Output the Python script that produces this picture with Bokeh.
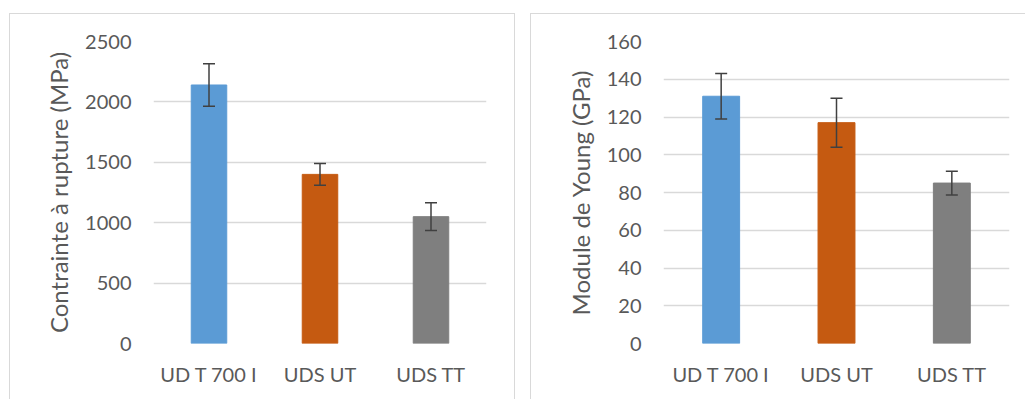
from bokeh.plotting import figure
from bokeh.layouts import row
from bokeh.models import ColumnDataSource, Whisker, TeeHead, FactorRange, Range1d
from bokeh.embed import file_html
from bokeh.resources import INLINE

categories = ["UD T 700 I", "UDS UT", "UDS TT"]
colors = ["#5B9BD5", "#C55A11", "#7F7F7F"]

strength = [2140, 1400, 1050]
strength_err = [175, 90, 115]

modulus = [131, 117, 85]
modulus_err = [12, 13, 6.3]

FONT = "Lato"
TXT = "#595959"
GRID = "#d9d9d9"
BORDER = "1px solid #d9d9d9"


def make(vals, errs, ymax, ylabel, w, left, right):
    src = ColumnDataSource(dict(
        cat=categories, val=vals, color=colors,
        lo=[v - e for v, e in zip(vals, errs)],
        hi=[v + e for v, e in zip(vals, errs)],
    ))
    p = figure(x_range=FactorRange(*categories, range_padding=0),
               y_range=Range1d(0, ymax),
               width=w, height=386, output_backend="svg", toolbar_location=None,
               min_border_left=left, min_border_right=right,
               min_border_top=27, min_border_bottom=57)
    p.vbar(x="cat", top="val", width=0.32, color="color", source=src)
    head = dict(size=12, line_color="#404040", line_width=1.5)
    wh = Whisker(base="cat", upper="hi", lower="lo", source=src, level="overlay",
                 line_color="#404040", line_width=1.5,
                 upper_head=TeeHead(**head), lower_head=TeeHead(**head))
    p.add_layout(wh)
    p.outline_line_color = None
    p.xgrid.grid_line_color = None
    p.ygrid.grid_line_color = GRID
    p.ygrid.grid_line_width = 1.3
    for ax in (p.xaxis[0], p.yaxis[0]):
        ax.axis_line_color = None
        ax.major_tick_line_color = None
        ax.minor_tick_line_color = None
        ax.major_tick_out = 0
        ax.major_tick_in = 0
        ax.minor_tick_out = 0
        ax.major_label_text_font = FONT
        ax.major_label_text_font_size = "20px"
        ax.major_label_text_color = TXT
    p.xaxis.major_label_standoff = 18
    p.yaxis.major_label_standoff = 22
    p.yaxis.axis_label = ylabel
    p.yaxis.axis_label_text_font = FONT
    p.yaxis.axis_label_text_font_size = "24px"
    p.yaxis.axis_label_text_font_style = "normal"
    p.yaxis.axis_label_text_color = TXT
    p.yaxis.axis_label_standoff = 9
    return p


p1 = make(strength, strength_err, 2500, "Contrainte à rupture (MPa)", 506, 143, 30)
p1.yaxis.ticker = [0, 500, 1000, 1500, 2000, 2500]
p1.styles = {"border-top": BORDER, "border-left": BORDER, "border-right": BORDER}
p1.margin = (13, 0, 0, 9)
p2 = make(modulus, modulus_err, 160, "Module de Young (GPa)", 495, 132, 17)
p2.yaxis.ticker = [0, 20, 40, 60, 80, 100, 120, 140, 160]
p2.styles = {"border-top": BORDER, "border-left": BORDER}
p2.margin = (13, 0, 0, 15)

layout = row(p1, p2)
open("out.html", "w").write(file_html(layout, INLINE))
